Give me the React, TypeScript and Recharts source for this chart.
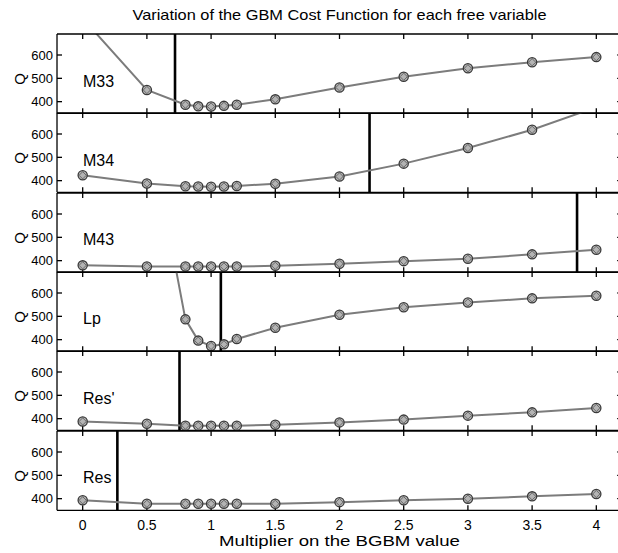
import React from 'react';
import { LineChart, Line, XAxis, YAxis, ReferenceLine } from 'recharts';

// multiplier values (x)
const multipliers = [0, 0.5, 0.8, 0.9, 1.0, 1.1, 1.2, 1.5, 2, 2.5, 3, 3.5, 4];
const xTicks = [0, 0.5, 1, 1.5, 2, 2.5, 3, 3.5, 4];
const yTicks = [400, 500, 600];

// cost function Q per free variable
const m33 = [757, 450, 387, 380, 379, 382, 387, 410, 461, 507, 543, 569, 591];
const m34 = [423, 388, 376, 375, 374, 375, 377, 387, 418, 473, 540, 618, 715];
const m43 = [380, 375, 375, 375, 375, 375, 375, 378, 387, 398, 408, 427, 447];
const lp = [2500, 1360, 487, 396, 373, 380, 403, 451, 507, 539, 559, 577, 588];
const resPrime = [388, 378, 370, 370, 370, 370, 370, 374, 384, 396, 413, 427, 446];
const res = [393, 378, 378, 378, 378, 378, 378, 378, 385, 393, 400, 410, 420];

// panel names and the vertical marker (optimum) positions
const names = ['M33', 'M34', 'M43', 'Lp', "Res'", 'Res'];
const series = [m33, m34, m43, lp, resPrime, res];
const markers = [0.719, 2.234, 3.85, 1.076, 0.754, 0.27];

const FONT = '"Liberation Sans", Arial, Helvetica, sans-serif';
const CHART_W = 615;
const CHART_LEFT = 8; // page x
const LEFT_W = 49;
const PANEL_H = 79.33;
const PANEL_TOP = 34; // page y
const XAXIS_H = 40;
const CENTER_X = 339.5;

const Marker = (props: any) => {
  const { cx, cy, index } = props;
  if (cx == null || cy == null || isNaN(cx) || isNaN(cy)) return <g key={`m-${index}`} />;
  return (
    <g key={`m-${index}`}>
      <circle cx={cx} cy={cy} r={4.6} fill="#b4b4b4" stroke="#3a3a3a" strokeWidth={1.3} />
      <path
        d={`M${cx} ${cy - 3.6}L${cx + 3.6} ${cy}L${cx} ${cy + 3.6}L${cx - 3.6} ${cy}Z`}
        fill="none"
        stroke="#555"
        strokeWidth={0.8}
      />
    </g>
  );
};

function Panel({ name, values, marker, index, last }: any) {
  const data = multipliers.map((x, i) => ({ x, q: values[i] }));
  const h = PANEL_H + 1 + (last ? XAXIS_H : 1);
  const top = PANEL_TOP + index * PANEL_H - 1;
  return (
    <div style={{ position: 'absolute', left: CHART_LEFT, top, width: CHART_W, height: h }}>
      <LineChart width={CHART_W} height={h} data={data} margin={{ top: 0, right: 0, bottom: 0, left: 0 }}>
        <XAxis
          xAxisId="b"
          dataKey="x"
          type="number"
          domain={[-0.2, 4.2]}
          ticks={xTicks}
          interval={0}
          allowDataOverflow
          height={last ? XAXIS_H : 1}
          tickSize={-5}
          tickMargin={15}
          tickFormatter={last ? (v: number) => String(v) : () => ''}
          stroke="#000"
          strokeWidth={1.3}
          tick={{ fill: '#000', fontSize: 14, fontFamily: FONT }}
        />
        <XAxis
          xAxisId="t"
          dataKey="x"
          orientation="top"
          type="number"
          domain={[-0.2, 4.2]}
          ticks={xTicks}
          interval={0}
          allowDataOverflow
          height={1}
          tickSize={-5}
          tickFormatter={() => ''}
          stroke="#000"
          strokeWidth={1.3}
        />
        <YAxis
          yAxisId="l"
          domain={[350, 690]}
          ticks={yTicks}
          interval={0}
          allowDataOverflow
          width={LEFT_W}
          tickSize={-5}
          tickMargin={9}
          stroke="#000"
          strokeWidth={1.3}
          tick={{ fill: '#000', fontSize: 13, fontFamily: FONT }}
        />
        <YAxis
          yAxisId="r"
          orientation="right"
          domain={[350, 690]}
          ticks={yTicks}
          interval={0}
          allowDataOverflow
          width={1}
          tickSize={-5}
          tickFormatter={() => ''}
          stroke="#000"
        />
        <ReferenceLine xAxisId="b" yAxisId="l" x={marker} stroke="#000" strokeWidth={2.6} />
        <Line
          xAxisId="b"
          yAxisId="l"
          dataKey="q"
          type="linear"
          stroke="#7c7c7c"
          strokeWidth={2}
          dot={Marker}
          isAnimationActive={false}
        />
      </LineChart>
      <div
        style={{
          position: 'absolute',
          left: 75,
          top: 48.5 - 9,
          height: 18,
          lineHeight: '18px',
          fontSize: 16,
          fontFamily: FONT,
          color: '#000',
          whiteSpace: 'nowrap',
        }}
      >
        {name}
      </div>
      <div
        style={{
          position: 'absolute',
          left: 3,
          top: 46 - 9,
          width: 18,
          height: 18,
          lineHeight: '18px',
          textAlign: 'center',
          fontSize: 15,
          fontFamily: FONT,
          color: '#000',
          transform: 'rotate(-90deg)',
        }}
      >
        Q
      </div>
    </div>
  );
}

export default function App() {
  return (
    <div
      style={{
        position: 'absolute',
        left: 0,
        top: 0,
        width: 618,
        height: 553,
        overflow: 'hidden',
        background: '#fff',
      }}
    >
      <div
        style={{
          position: 'absolute',
          left: 0,
          width: CENTER_X * 2,
          top: 15 - 9,
          height: 18,
          lineHeight: '18px',
          textAlign: 'center',
          fontSize: 15,
          fontFamily: FONT,
          color: '#000',
          whiteSpace: 'nowrap',
          transform: 'scaleX(1.09)',
        }}
      >
        Variation of the GBM Cost Function for each free variable
      </div>
      {series.map((values, i) => (
        <Panel
          key={names[i]}
          name={names[i]}
          values={values}
          marker={markers[i]}
          index={i}
          last={i === series.length - 1}
        />
      ))}
      <div
        style={{
          position: 'absolute',
          left: 0,
          width: CENTER_X * 2,
          top: 541 - 9,
          height: 18,
          lineHeight: '18px',
          textAlign: 'center',
          fontSize: 15.5,
          fontFamily: FONT,
          color: '#000',
          whiteSpace: 'nowrap',
          transform: 'scaleX(1.2)',
        }}
      >
        Multiplier on the BGBM value
      </div>
    </div>
  );
}
